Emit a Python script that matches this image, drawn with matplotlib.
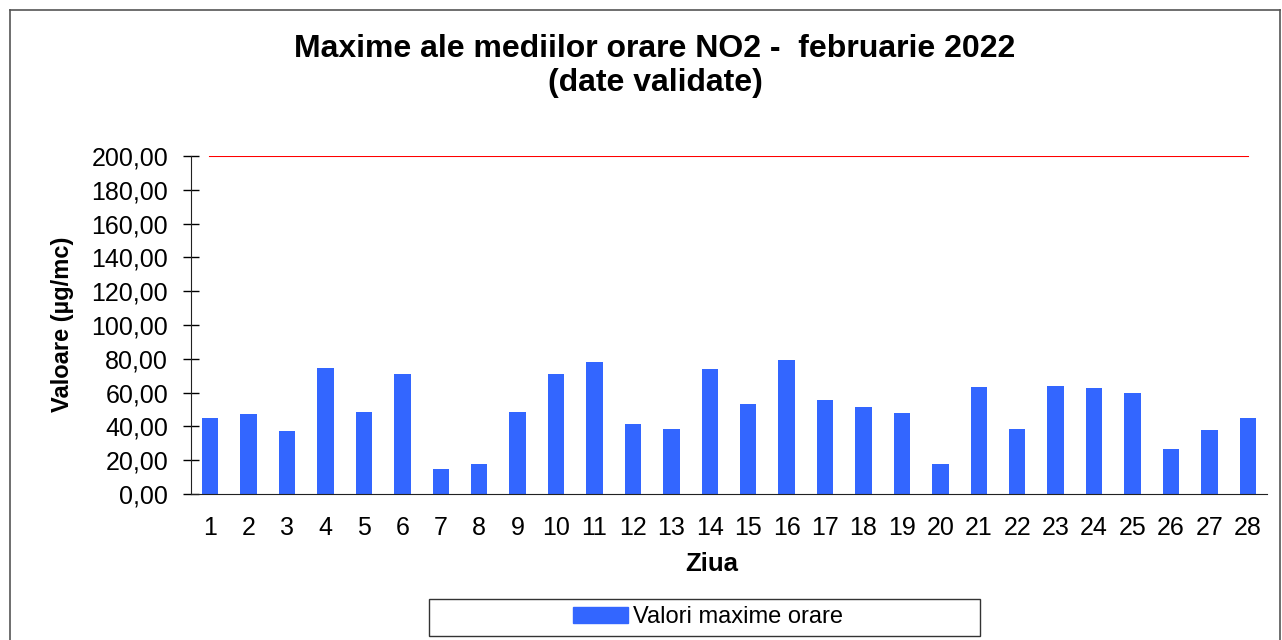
import numpy as np
import matplotlib
matplotlib.use("Agg")
import matplotlib.pyplot as plt
from matplotlib.lines import Line2D
from matplotlib.patches import Rectangle

# date
zile = list(range(1, 29))
valori_max = [45.0, 47.5, 37.0, 74.6, 48.7, 70.8, 14.8, 17.8, 48.5, 71.2,
              78.1, 41.2, 38.2, 74.0, 53.3, 79.5, 55.8, 51.2, 47.9, 17.8,
              63.1, 38.6, 63.7, 62.5, 59.5, 26.4, 37.9, 44.7]
valoare_limita = [200.0] * len(zile)
y_ticks = np.arange(0, 201, 20)

plt.rcParams['font.family'] = ['Liberation Sans', 'DejaVu Sans']

W, H = 1282, 640
fig = plt.figure(figsize=(W / 100, H / 100), dpi=100)

def fx(px):
    return px / W

def fy(py):
    return 1 - py / H

# chenarul exterior al graficului
fig.add_artist(Line2D([fx(10), fx(10)], [0, fy(10)], color="#555555", lw=1.2))
fig.add_artist(Line2D([fx(10), fx(1280)], [fy(10), fy(10)], color="#555555", lw=1.2))
fig.add_artist(Line2D([fx(1280), fx(1280)], [0, fy(10)], color="#555555", lw=1.2))

ax = fig.add_axes([fx(191), fy(494), (1267 - 191) / W, (494 - 156) / H])

bare = ax.bar(zile, valori_max, width=0.43, color="#3366FF", zorder=2)
ax.plot(zile, valoare_limita, color="red", lw=1.5, zorder=3)

ax.set_xlim(0.5, 28.5)
ax.set_ylim(0, 200)
ax.set_xticks(zile)
ax.set_xticklabels([str(z) for z in zile])
ax.set_yticks(y_ticks)
ax.set_yticklabels([f"{v:.2f}".replace('.', ',') for v in y_ticks])

ax.tick_params(axis='y', direction='inout', length=11, labelsize=18, width=1, pad=11)
ax.tick_params(axis='x', length=0, labelsize=18, pad=16)

for s in ['top', 'right']:
    ax.spines[s].set_visible(False)
ax.spines['left'].set_color("#222222")
ax.spines['bottom'].set_color("#222222")

# etichete axe
fig.text(fx(712), fy(564), "Ziua", ha='center', va='center', fontsize=18.5, fontweight='bold')
fig.text(fx(62), fy(324), "Valoare (µg/mc)", ha='center', va='center', rotation=90,
         fontsize=17, fontweight='bold')

# titlu
fig.text(fx(655), fy(57), "Maxime ale mediilor orare NO2 -  februarie 2022",
         ha='center', va='baseline', fontsize=23, fontweight='bold')
fig.text(fx(655), fy(91), "(date validate)",
         ha='center', va='baseline', fontsize=23, fontweight='bold')

# legenda
fig.add_artist(Rectangle((fx(429), fy(636)), (980 - 429) / W, (636 - 599) / H,
                         transform=fig.transFigure, fill=False, edgecolor="#333333", lw=1.0))
fig.legend(handles=[Rectangle((0, 0), 1, 1, color="#3366FF")],
           labels=["Valori maxime orare"],
           loc='center', bbox_to_anchor=(fx(708), fy(617)),
           fontsize=17, frameon=False, handlelength=2.3,
           handleheight=0.64, handletextpad=0.2, borderpad=0.0)

fig.savefig("out.png", dpi=100)
